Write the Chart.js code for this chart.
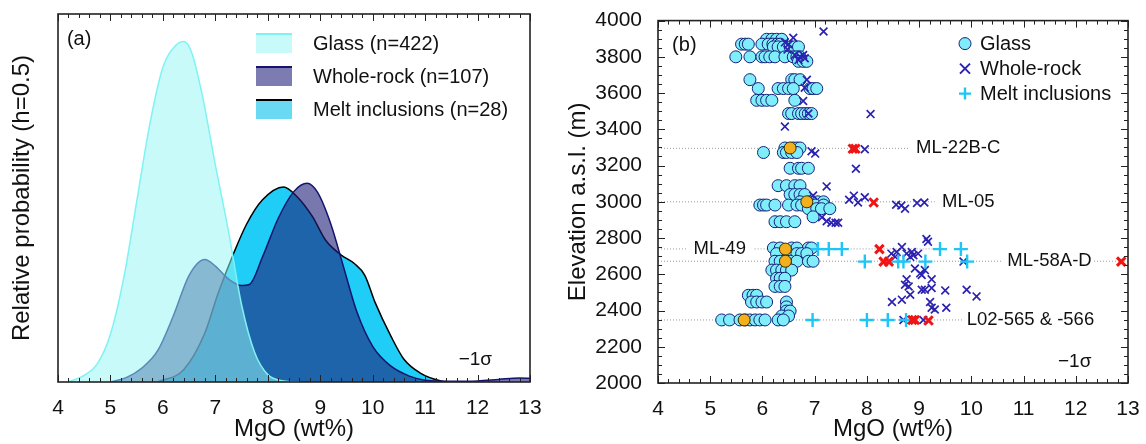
<!DOCTYPE html>
<html>
<head>
<meta charset="utf-8">
<script src="https://cdn.jsdelivr.net/npm/chart.js@4.4.1/dist/chart.umd.min.js"></script>
<style>
  html, body { margin: 0; padding: 0; background: #fff; }
  #wrap { width: 1146px; height: 444px; display: flex; }
  #pa { width: 560px; height: 444px; position: relative; }
  #pb { width: 586px; height: 444px; position: relative; }
</style>
</head>
<body>
<div id="wrap">
  <div id="pa"><canvas id="kde"></canvas></div>
  <div id="pb"><canvas id="elev"></canvas></div>
</div>
<script>
// ---- panel (a): relative probability curves, MgO wt% ----
const glassX = [4.2, 4.5, 4.75, 5.0, 5.25, 5.5, 5.75, 6.0, 6.25, 6.4, 6.55, 6.75, 7.0, 7.25, 7.5, 7.75, 8.0, 8.3, 8.6];
const glassY = [0, 0.018, 0.05, 0.13, 0.28, 0.49, 0.70, 0.855, 0.915, 0.925, 0.895, 0.78, 0.59, 0.41, 0.21, 0.08, 0.02, 0.003, 0];

const rockX = [5.0, 5.3, 5.6, 5.9, 6.2, 6.5, 6.8, 7.0, 7.25, 7.5, 7.65, 7.9, 8.2, 8.5, 8.75, 8.95, 9.2, 9.45, 9.7, 10.0, 10.35, 10.7, 11.0, 11.5, 12.0, 12.4, 12.8, 13.0];
const rockY = [0, 0.012, 0.038, 0.085, 0.18, 0.29, 0.333, 0.315, 0.28, 0.262, 0.265, 0.34, 0.445, 0.518, 0.54, 0.515, 0.43, 0.31, 0.19, 0.097, 0.043, 0.016, 0.005, 0.002, 0.003, 0.007, 0.011, 0.01];

const meltX = [5.9, 6.4, 6.8, 7.05, 7.35, 7.6, 7.9, 8.3, 8.55, 8.85, 9.1, 9.4, 9.65, 9.85, 10.05, 10.35, 10.6, 10.9, 11.3, 11.5];
const meltY = [0, 0.034, 0.133, 0.24, 0.35, 0.43, 0.495, 0.53, 0.505, 0.45, 0.386, 0.345, 0.322, 0.29, 0.215, 0.124, 0.061, 0.025, 0.003, 0];

const kdeLabels = ['Glass (n=422)', 'Whole-rock (n=107)', 'Melt inclusions (n=28)'];

// ---- panel (b): MgO vs elevation, [MgO, elevation] ----
const glassPts = [
  [6.08,3897],[6.18,3897],[6.27,3897],[6.37,3897],
  [5.60,3870],[5.67,3870],[5.73,3870],[5.99,3870],[6.11,3870],[6.20,3870],[6.28,3870],[6.34,3870],
  [6.21,3855],[6.30,3855],[6.40,3855],[6.53,3855],[6.62,3855],[6.69,3855],
  [5.49,3800],[5.76,3800],[5.99,3800],[6.05,3800],[6.14,3800],[6.24,3800],[6.43,3800],[6.59,3800],[6.66,3800],[6.72,3800],
  [6.69,3775],[6.78,3775],[6.85,3775],
  [5.76,3674],[6.56,3674],[6.62,3674],[6.72,3674],
  [5.92,3625],[6.30,3625],[6.40,3625],[6.50,3625],[6.59,3625],[6.91,3625],[6.97,3625],[7.04,3625],
  [5.89,3560],[5.99,3560],[6.08,3560],[6.18,3560],[6.62,3560],
  [6.50,3487],[6.56,3487],[6.69,3487],[6.75,3487],[6.82,3487],[6.88,3487],[6.94,3487],
  [6.43,3297],[6.59,3297],[6.66,3297],[6.72,3297],
  [6.02,3272],[6.40,3272],[6.46,3272],[6.56,3272],[6.66,3272],
  [6.53,3185],[6.69,3185],[6.75,3185],[6.88,3185],
  [6.30,3089],[6.46,3089],[6.62,3089],[6.72,3089],
  [6.53,3040],[6.62,3040],[6.72,3040],[6.81,3040],
  [6.72,3000],[6.91,3000],[7.06,3000],[7.17,3000],
  [5.95,2982],[6.02,2982],[6.08,2982],[6.24,2982],[6.50,2982],[6.66,2982],[6.75,2982],[7.01,2982],[7.17,2982],
  [6.88,2962],[7.04,2962],[7.13,2962],[7.29,2962],
  [6.97,2917],
  [6.24,2890],[6.34,2890],[6.46,2890],[6.62,2890],
  [6.21,2745],[6.34,2745],[6.56,2745],[6.66,2745],[6.88,2745],[6.94,2745],
  [6.27,2714],[6.50,2714],[6.66,2714],[6.75,2714],[6.85,2714],
  [6.24,2672],[6.34,2672],[6.53,2672],[6.66,2672],[6.88,2672],[6.97,2672],
  [6.18,2623],[6.27,2623],[6.37,2623],[6.46,2623],[6.56,2623],
  [6.27,2578],[6.34,2578],[6.43,2578],
  [6.24,2533],[6.34,2533],[6.43,2533],
  [5.73,2484],[5.82,2484],[5.89,2484],
  [5.79,2447],[5.89,2447],[5.99,2447],[6.08,2447],[6.46,2447],
  [6.46,2420],[6.46,2397],[6.53,2397],[6.37,2370],[6.50,2370],
  [5.22,2348],[5.37,2348],[5.57,2348],[5.67,2348],[5.76,2348],[5.86,2348],[5.95,2348],[6.05,2348],[6.30,2348],[6.40,2348]
];
const samplePts = [[6.53,3297],[6.85,3000],[6.44,2739],[6.44,2672],[5.65,2348]];
const rockPts = [
  [7.17,3940],[6.59,3905],[6.43,3880],[6.50,3870],[6.48,3840],[6.62,3810],[6.72,3800],[6.78,3810],[6.69,3783],[6.81,3792],
  [6.85,3674],[6.81,3629],[6.78,3556],[6.88,3487],[8.07,3484],[6.43,3415],
  [6.94,3279],[7.01,3266],[7.96,3290],[7.79,3182],[7.23,3085],[6.97,3035],
  [7.66,3011],[7.75,3034],[7.83,2996],[7.96,3025],[8.56,2984],[8.66,2980],[8.73,2962],[8.96,2993],[9.10,2996],
  [7.14,2915],[7.23,2893],[7.32,2884],[7.40,2884],[7.45,2884],
  [9.14,2795],[9.17,2780],[8.67,2750],[8.47,2714],[8.57,2723],[8.54,2696],[8.76,2714],[8.83,2696],[8.89,2705],[8.98,2714],[8.86,2723],[9.85,2670],
  [8.92,2632],[9.02,2605],[9.11,2623],[9.05,2596],[8.76,2572],[9.24,2572],[8.73,2542],[8.80,2533],
  [9.05,2515],[9.11,2515],[9.24,2524],[9.50,2511],[9.91,2515],[10.10,2478],[8.83,2487],[8.67,2460],[8.48,2447],
  [9.21,2447],[9.24,2415],[9.30,2406],[9.52,2415],[8.70,2348],[9.08,2348]
];
const rockRedPts = [[7.73,3293],[7.78,3293],[8.13,2996],[8.24,2739],[8.32,2670],[8.42,2670],[12.87,2670],[8.87,2348],[8.92,2348],[9.18,2345]];
const meltPts = [
  [7.06,2739],[7.27,2739],[7.52,2739],[9.40,2739],[9.80,2739],
  [7.96,2670],[8.60,2670],[8.70,2670],[9.12,2670],[9.92,2670],
  [6.96,2348],[8.00,2348],[8.40,2348],[8.75,2348]
];
// sample horizons: name, elevation, dotted segments (MgO ranges), label MgO
const sampleNames = ['ML-22B-C', 'ML-05', 'ML-49', 'ML-58A-D', 'L02-565 & -566'];
const sampleElev = [3295, 3000, 2740, 2672, 2348];
const sampleSegs = [[[4, 8.8]], [[4, 9.3]], [[4, 4.55], [5.85, 9.35]], [[4, 10.6], [12.35, 13]], [[4, 9.85]]];
const sampleLabelX = [8.94, 9.44, 4.68, 10.69, 9.91];

Chart.defaults.font.family = "'Liberation Sans', Arial, sans-serif";
Chart.defaults.color = '#111';
Chart.defaults.animation = false;

const toXY = (xs, ys) => xs.map((x, i) => ({ x: x, y: ys[i] }));
const toPts = arr => arr.map(p => ({ x: p[0], y: p[1] }));

// inward ticks on the frame + box
const frameTicks = {
  id: 'frameTicks',
  afterDatasetsDraw(chart, args, o) {
    const { ctx, chartArea: a, scales } = chart;
    ctx.save();
    ctx.strokeStyle = '#222';
    ctx.lineWidth = 1;
    const sx = scales.x, sy = scales.y;
    const nx = Math.round((sx.max - sx.min) / o.xMinor);
    for (let i = 0; i <= nx; i++) {
      const v = sx.min + i * o.xMinor;
      const len = (i % o.xEvery === 0) ? 7 : 4;
      const px = Math.round(sx.getPixelForValue(v)) + 0.5;
      ctx.beginPath();
      ctx.moveTo(px, a.bottom); ctx.lineTo(px, a.bottom - len);
      ctx.moveTo(px, a.top); ctx.lineTo(px, a.top + len);
      ctx.stroke();
    }
    if (o.yMinor) {
      const ny = Math.round((sy.max - sy.min) / o.yMinor);
      for (let i = 0; i <= ny; i++) {
        const v = sy.min + i * o.yMinor;
        const len = (i % o.yEvery === 0) ? 7 : 4;
        const py = Math.round(sy.getPixelForValue(v)) + 0.5;
        ctx.beginPath();
        ctx.moveTo(a.left, py); ctx.lineTo(a.left + len, py);
        ctx.moveTo(a.right, py); ctx.lineTo(a.right - len, py);
        ctx.stroke();
      }
    }
    ctx.lineWidth = 1.6;
    ctx.strokeRect(a.left, a.top, a.right - a.left, a.bottom - a.top);
    ctx.restore();
  }
};

// free text placed at data coordinates
const notes = {
  id: 'notes',
  afterDatasetsDraw(chart, args, o) {
    const { ctx, scales } = chart;
    ctx.save();
    ctx.fillStyle = '#111';
    ctx.textBaseline = 'middle';
    ctx.textAlign = 'left';
    o.items.forEach(t => {
      ctx.font = t.size + "px 'Liberation Sans', Arial, sans-serif";
      ctx.fillText(t.text, scales.x.getPixelForValue(t.x), scales.y.getPixelForValue(t.y));
    });
    ctx.restore();
  }
};

// panel (a) legend: filled patches with a coloured top edge
const kdeLegend = {
  id: 'kdeLegend',
  afterDatasetsDraw(chart) {
    const { ctx, chartArea: a } = chart;
    const patchFill = ['#c8fafa', '#7c7cb2', '#6ad9f3'];
    const edge = ['#7ff3f3', '#14146e', '#000'];
    ctx.save();
    ctx.font = "20px 'Liberation Sans', Arial, sans-serif";
    ctx.textBaseline = 'middle';
    chart.data.datasets.forEach((d, i) => {
      const x = a.left + 198, y = a.top + 19 + i * 33;
      ctx.fillStyle = patchFill[i];
      ctx.fillRect(x, y, 36, 20);
      ctx.strokeStyle = edge[i];
      ctx.lineWidth = 2;
      ctx.beginPath(); ctx.moveTo(x, y + 1); ctx.lineTo(x + 36, y + 1); ctx.stroke();
      ctx.fillStyle = '#111';
      ctx.fillText(d.label, x + 57, y + 11);
    });
    ctx.restore();
  }
};

new Chart(document.getElementById('kde'), {
  type: 'line',
  data: {
    datasets: [
      {
        label: kdeLabels[0], data: toXY(glassX, glassY),
        borderColor: '#7ff3f3', backgroundColor: 'rgba(150,245,245,0.52)',
        borderWidth: 1.5, fill: 'origin', pointRadius: 0, cubicInterpolationMode: 'monotone'
      },
      {
        label: kdeLabels[1], data: toXY(rockX, rockY),
        borderColor: '#14146e', backgroundColor: 'rgba(30,30,120,0.6)',
        borderWidth: 1.5, fill: 'origin', pointRadius: 0, cubicInterpolationMode: 'monotone'
      },
      {
        label: kdeLabels[2], data: toXY(meltX, meltY),
        borderColor: '#000', backgroundColor: '#20cdf6',
        borderWidth: 1.5, fill: 'origin', pointRadius: 0, cubicInterpolationMode: 'monotone'
      }
    ]
  },
  options: {
    responsive: true,
    maintainAspectRatio: false,
    layout: { padding: { top: 14, right: 30, left: 0, bottom: 0 } },
    plugins: {
      legend: { display: false },
      tooltip: { enabled: false },
      frameTicks: { xMinor: 0.2, xEvery: 5 },
      notes: { items: [
        { text: '(a)', x: 4.17, y: 0.93, size: 20 },
        { text: '\u22121\u03c3', x: 11.64, y: 0.06, size: 19 }
      ] }
    },
    scales: {
      x: {
        type: 'linear', min: 4, max: 13,
        ticks: { stepSize: 1, font: { size: 21 }, padding: 6, maxRotation: 0 },
        grid: { display: false }, border: { display: false },
        title: { display: true, text: 'MgO (wt%)', font: { size: 24 }, padding: { top: 0, bottom: 0 } },
        afterFit: s => { s.height = 62; }
      },
      y: {
        min: 0, max: 1,
        ticks: { display: false },
        grid: { display: false }, border: { display: false },
        title: { display: true, text: 'Relative probability (h=0.5)', font: { size: 24 }, padding: { top: 8, bottom: 0 } },
        afterFit: s => { s.width = 58; }
      }
    }
  },
  plugins: [frameTicks, notes, kdeLegend]
});

// panel (b) legend: marker + text
const elevLegend = {
  id: 'elevLegend',
  afterDatasetsDraw(chart) {
    const { ctx, chartArea: a } = chart;
    const x = a.left + 307, y0 = a.top + 23;
    const names = ['Glass', 'Whole-rock', 'Melt inclusions'];
    ctx.save();
    ctx.font = "20px 'Liberation Sans', Arial, sans-serif";
    ctx.textBaseline = 'middle';
    names.forEach((n, i) => {
      const y = y0 + i * 25;
      if (i === 0) {
        ctx.beginPath(); ctx.arc(x, y, 6, 0, Math.PI * 2);
        ctx.fillStyle = '#80eefa'; ctx.fill();
        ctx.strokeStyle = '#14207a'; ctx.lineWidth = 1; ctx.stroke();
      } else if (i === 1) {
        ctx.strokeStyle = '#2b22b0'; ctx.lineWidth = 2;
        ctx.beginPath();
        ctx.moveTo(x - 5, y - 5); ctx.lineTo(x + 5, y + 5);
        ctx.moveTo(x - 5, y + 5); ctx.lineTo(x + 5, y - 5);
        ctx.stroke();
      } else {
        ctx.strokeStyle = '#1ec5f7'; ctx.lineWidth = 2.4;
        ctx.beginPath();
        ctx.moveTo(x - 6, y); ctx.lineTo(x + 6, y);
        ctx.moveTo(x, y - 6); ctx.lineTo(x, y + 6);
        ctx.stroke();
      }
      ctx.fillStyle = '#111';
      ctx.fillText(n, x + 15, y + 1);
    });
    ctx.restore();
  }
};

const lineSets = [];
sampleSegs.forEach((segs, i) => {
  segs.forEach(s => {
    lineSets.push({
      type: 'line', data: [{ x: s[0], y: sampleElev[i] }, { x: s[1], y: sampleElev[i] }],
      borderColor: '#9a9a9a', borderWidth: 1, borderDash: [1, 2], pointRadius: 0, fill: false, order: 10
    });
  });
});

new Chart(document.getElementById('elev'), {
  type: 'scatter',
  data: {
    datasets: [
      { label: 'Glass', data: toPts(glassPts), pointStyle: 'circle', pointRadius: 6,
        backgroundColor: '#80eefa', borderColor: '#14207a', borderWidth: 1, order: 5 },
      { label: 'Whole-rock', data: toPts(rockPts), pointStyle: 'crossRot', pointRadius: 5.5,
        borderColor: '#2b22b0', borderWidth: 1.7, order: 4 },
      { label: 'Melt inclusions', data: toPts(meltPts), pointStyle: 'cross', pointRadius: 7,
        borderColor: '#1ec5f7', borderWidth: 2.4, order: 3 },
      { label: 'Whole-rock (samples)', data: toPts(rockRedPts), pointStyle: 'crossRot', pointRadius: 6,
        borderColor: '#f01414', borderWidth: 3, order: 2 },
      { label: 'Glass (samples)', data: toPts(samplePts), pointStyle: 'circle', pointRadius: 6,
        backgroundColor: '#f2b01e', borderColor: '#3a2a00', borderWidth: 1, order: 1 },
      ...lineSets
    ]
  },
  options: {
    responsive: true,
    maintainAspectRatio: false,
    layout: { padding: { top: 15, right: 18, left: 0, bottom: 0 } },
    plugins: {
      legend: { display: false },
      tooltip: { enabled: false },
      frameTicks: { xMinor: 0.2, xEvery: 5, yMinor: 50, yEvery: 4 },
      notes: { items: sampleNames.map((n, i) => ({ text: n, x: sampleLabelX[i], y: sampleElev[i], size: 18.5 }))
        .concat([
          { text: '(b)', x: 4.27, y: 3864, size: 20 },
          { text: '\u22121\u03c3', x: 11.66, y: 2117, size: 19 }
        ]) }
    },
    scales: {
      x: {
        type: 'linear', min: 4, max: 13,
        ticks: { stepSize: 1, font: { size: 21 }, padding: 6, maxRotation: 0 },
        grid: { display: false }, border: { display: false },
        title: { display: true, text: 'MgO (wt%)', font: { size: 24 }, padding: { top: 0, bottom: 0 } },
        afterFit: s => { s.height = 61; }
      },
      y: {
        type: 'linear', min: 2000, max: 4000,
        ticks: { stepSize: 200, font: { size: 21 }, padding: 8, callback: v => String(v) },
        grid: { display: false }, border: { display: false },
        title: { display: true, text: 'Elevation a.s.l. (m)', font: { size: 24 }, padding: { top: 4, bottom: 0 } },
        afterFit: s => { s.width = 98; }
      }
    }
  },
  plugins: [frameTicks, notes, elevLegend]
});
</script>
</body>
</html>
